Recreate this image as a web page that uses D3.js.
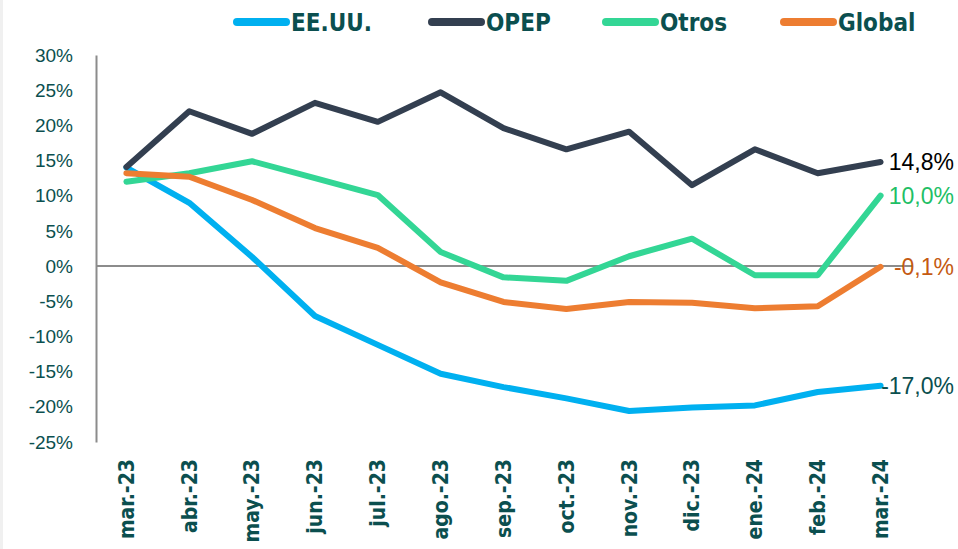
<!DOCTYPE html>
<html>
<head>
<meta charset="utf-8">
<script src="https://cdn.jsdelivr.net/npm/d3@7"></script>
<style>
  body { margin: 0; background: #fff; }
  svg { display: block; }
</style>
</head>
<body>
<div id="chart"></div>
<script>
// Months on the x axis
const months = ["mar.-23", "abr.-23", "may.-23", "jun.-23", "jul.-23", "ago.-23",
  "sep.-23", "oct.-23", "nov.-23", "dic.-23", "ene.-24", "feb.-24", "mar.-24"];

// Series values (%)
const eeuu   = [14.0, 9.0, 1.3, -7.1, -11.2, -15.3, -17.2, -18.8, -20.6, -20.1, -19.8, -17.9, -17.0];
const opep   = [14.1, 22.0, 18.8, 23.2, 20.5, 24.7, 19.6, 16.6, 19.1, 11.5, 16.6, 13.2, 14.8];
const otros  = [12.0, 13.2, 14.9, 12.5, 10.1, 2.0, -1.6, -2.1, 1.4, 3.9, -1.3, -1.3, 10.0];
const global = [13.2, 12.7, 9.4, 5.4, 2.6, -2.3, -5.1, -6.1, -5.1, -5.2, -6.0, -5.7, -0.1];

const yTicks = [30, 25, 20, 15, 10, 5, 0, -5, -10, -15, -20, -25];

const series = [
  {name: "EE.UU.", values: eeuu,   color: "#00b0f0", label: "-17,0%", labelColor: "#0b4f4f"},
  {name: "OPEP",   values: opep,   color: "#333f50", label: "14,8%",  labelColor: "#000000"},
  {name: "Otros",  values: otros,  color: "#33d695", label: "10,0%",  labelColor: "#1fbf66"},
  {name: "Global", values: global, color: "#ed7d31", label: "-0,1%",  labelColor: "#c55a11"}
];

const width = 958;
const height = 549;
const margin = {left: 95, right: 46, top: 55, bottom: 107};
const textColor = "#0b4f4f";

const svg = d3.select("#chart")
  .append("svg")
  .attr("width", width)
  .attr("height", height);

// thin grey strip on the left edge
svg.append("rect")
  .attr("x", 0).attr("y", 0)
  .attr("width", 3).attr("height", height)
  .attr("fill", "#f0f0f0");

// Scales
let xScale = d3.scaleBand()
  .domain(months)
  .range([margin.left, width - margin.right])
  .padding(0);

let yScale = d3.scaleLinear()
  .domain([-25, 30])
  .range([height - margin.bottom, margin.top]);

const xc = d => xScale(d) + xScale.bandwidth() / 2;

// Y axis
const yAxis = svg.append("g")
  .attr("transform", `translate(${margin.left + 1}, 0)`)
  .call(d3.axisLeft(yScale).tickValues(yTicks).tickSize(0).tickPadding(23)
    .tickFormat(d => d + "%"));
yAxis.select(".domain").attr("stroke", "#8c8c8c").attr("stroke-width", 2);
yAxis.selectAll("text")
  .attr("fill", textColor)
  .attr("font-family", "'Liberation Sans', Arial, sans-serif")
  .attr("font-size", "19px");

// Zero line
svg.append("line")
  .attr("x1", margin.left + 1)
  .attr("x2", width - margin.right)
  .attr("y1", yScale(0))
  .attr("y2", yScale(0))
  .attr("stroke", "#8c8c8c")
  .attr("stroke-width", 2);

// X axis labels (rotated)
const xAxis = svg.append("g")
  .attr("transform", `translate(0, ${height - margin.bottom + 17})`)
  .call(d3.axisBottom(xScale).tickSize(0).tickPadding(0));
xAxis.select(".domain").remove();
xAxis.selectAll("text")
  .attr("transform", "rotate(-90)")
  .attr("text-anchor", "end")
  .attr("x", 0)
  .attr("y", 0)
  .attr("dy", "0.35em")
  .attr("fill", textColor)
  .attr("font-family", "'DejaVu Sans Condensed', 'DejaVu Sans', sans-serif")
  .attr("font-weight", "bold")
  .attr("font-size", "21px");

// Lines
const line = d3.line()
  .x((d, i) => xc(months[i]))
  .y(d => yScale(d));

svg.selectAll(".series")
  .data(series)
  .enter()
  .append("path")
    .attr("class", "series")
    .attr("d", d => line(d.values))
    .attr("fill", "none")
    .attr("stroke", d => d.color)
    .attr("stroke-width", 6)
    .attr("stroke-linejoin", "round")
    .attr("stroke-linecap", "round");

// End labels
svg.selectAll(".endlabel")
  .data(series)
  .enter()
  .append("text")
    .attr("class", "endlabel")
    .attr("x", 954)
    .attr("y", d => yScale(d.values[d.values.length - 1]))
    .attr("dy", "0.35em")
    .attr("text-anchor", "end")
    .attr("fill", d => d.labelColor)
    .attr("font-family", "'Liberation Sans', Arial, sans-serif")
    .attr("font-size", "23px")
    .text(d => d.label);

// Legend
const legendX = [233, 428, 602, 780];
const legend = svg.selectAll(".legend")
  .data(series)
  .enter()
  .append("g")
    .attr("class", "legend")
    .attr("transform", (d, i) => `translate(${legendX[i]}, 22)`);

legend.append("line")
  .attr("x1", 4).attr("x2", 53)
  .attr("y1", 0).attr("y2", 0)
  .attr("stroke", d => d.color)
  .attr("stroke-width", 8)
  .attr("stroke-linecap", "round");

legend.append("text")
  .attr("x", 58)
  .attr("y", 0)
  .attr("dy", "0.36em")
  .attr("fill", textColor)
  .attr("font-family", "'DejaVu Sans Condensed', 'DejaVu Sans', sans-serif")
  .attr("font-weight", "bold")
  .attr("font-size", "24px")
  .text(d => d.name);
</script>
</body>
</html>
